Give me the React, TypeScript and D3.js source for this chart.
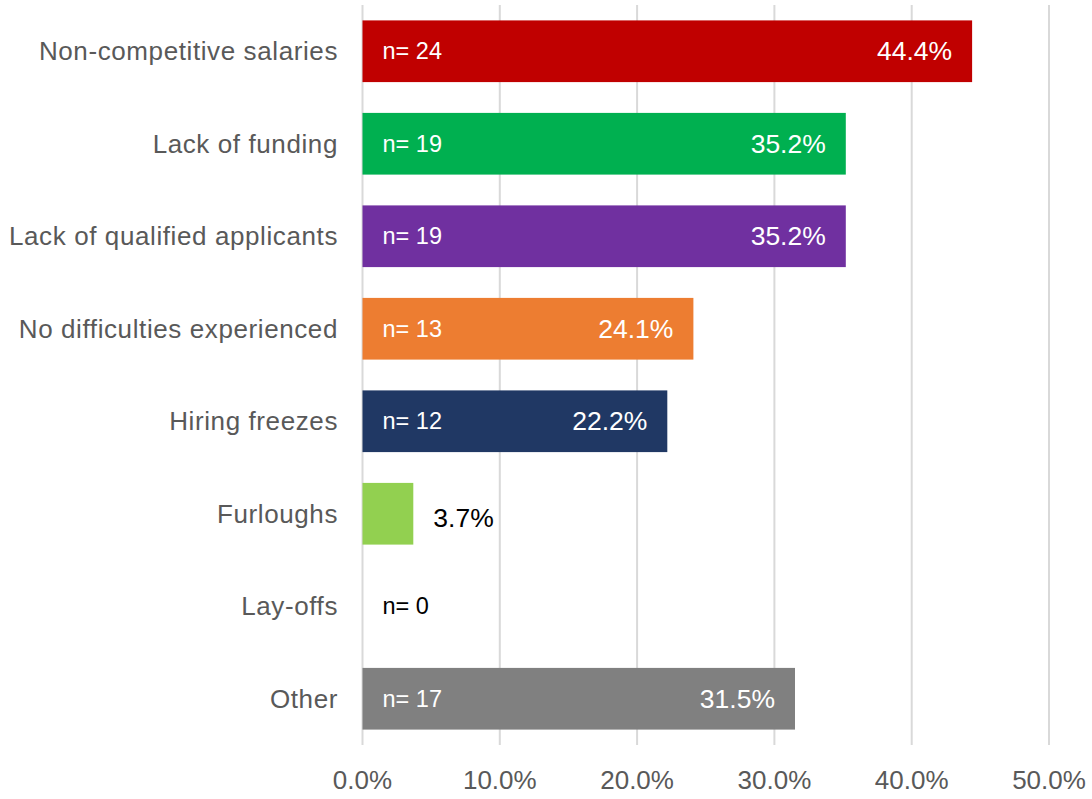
import React from "react";
import * as d3 from "d3";

const categories = [
  "Non-competitive salaries",
  "Lack of funding",
  "Lack of qualified applicants",
  "No difficulties experienced",
  "Hiring freezes",
  "Furloughs",
  "Lay-offs",
  "Other",
];
const percents = [44.4, 35.2, 35.2, 24.1, 22.2, 3.7, 0, 31.5];
const counts = [24, 19, 19, 13, 12, 2, 0, 17];
const colors = ["#C00000", "#00B050", "#7030A0", "#ED7D31", "#203864", "#92D050", "#A5A5A5", "#808080"];
const ticks = [0, 10, 20, 30, 40, 50];

export default function App() {
  const W = 1092, H = 799;
  const x = d3.scaleLinear().domain([0, 50]).range([362.5, 1049]);
  const y = d3.scaleBand<string>().domain(categories).range([5, 745]).paddingInner(0.333).paddingOuter(0.1665);
  const font = "'Liberation Sans', Arial, sans-serif";
  return (
    <svg width={W} height={H} style={{ position: "absolute", left: 0, top: 0, background: "#fff" }} fontFamily={font}>
      {ticks.map((t) => (
        <line key={t} x1={x(t)} x2={x(t)} y1={5} y2={745} stroke="#D9D9D9" strokeWidth={2} />
      ))}
      {categories.map((c, i) => {
        const y0 = y(c)!;
        const bw = y.bandwidth();
        const cy = y0 + bw / 2;
        const xe = x(percents[i]);
        const inside = percents[i] > 10;
        return (
          <g key={c}>
            {percents[i] > 0 && (
              <rect x={x(0)} y={y0} width={xe - x(0)} height={bw} fill={colors[i]} />
            )}
            <text x={338} y={cy} textAnchor="end" dominantBaseline="central" fontSize={26} letterSpacing={0.6} fill="#595959">
              {c}
            </text>
            {(inside || percents[i] === 0) && (
              <text x={x(0) + 20} y={cy} dominantBaseline="central" fontSize={23.5} fill={inside ? "#fff" : "#000"}>
                {`n= ${counts[i]}`}
              </text>
            )}
            {percents[i] > 0 && (
              <text
                x={inside ? xe - 20 : xe + 20}
                y={cy + (inside ? 0 : 4)}
                textAnchor={inside ? "end" : "start"}
                dominantBaseline="central"
                fontSize={26.5}
                fill={inside ? "#fff" : "#000"}
              >
                {`${percents[i].toFixed(1)}%`}
              </text>
            )}
          </g>
        );
      })}
      {ticks.map((t) => (
        <text key={t} x={x(t)} y={780} textAnchor="middle" dominantBaseline="central" fontSize={26} fill="#595959">
          {`${t.toFixed(1)}%`}
        </text>
      ))}
    </svg>
  );
}
